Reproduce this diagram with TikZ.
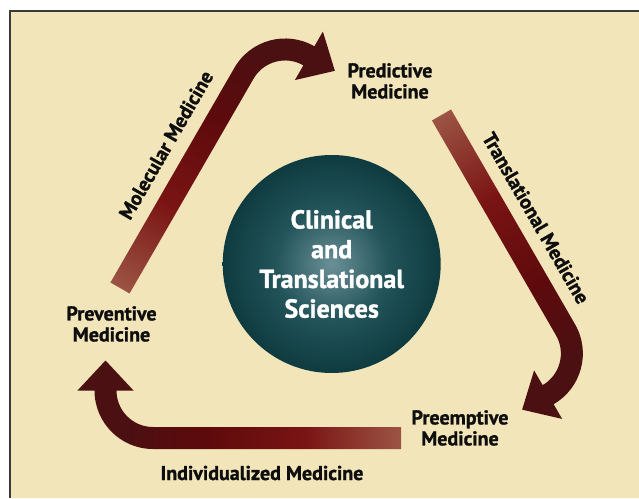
\documentclass[tikz,border=0pt]{standalone}
\usepackage{fontspec}
\setmainfont{PT Sans}[BoldFeatures={FakeBold=1.3}]
\usepackage{xcolor}
\usepackage{tikz}
\usetikzlibrary{positioning}

\definecolor{parchment}{HTML}{F2E5B9}
\definecolor{framegray}{HTML}{3A3A3A}
\definecolor{labelink}{HTML}{0E0E0E}
\definecolor{bandtail}{HTML}{9C5444}
\definecolor{bandred}{HTML}{7A1414}
\definecolor{banddeep}{HTML}{5E0A0C}
\definecolor{bandhead}{HTML}{4A1012}
\definecolor{globelight}{HTML}{6A9096}
\definecolor{globemid}{HTML}{22545A}
\definecolor{globedark}{HTML}{0E3B40}

\pgfdeclareverticalshading{bandfade}{100bp}{color(0bp)=(bandtail); color(25bp)=(bandtail); color(40bp)=(bandred); color(55bp)=(banddeep); color(68bp)=(bandhead); color(100bp)=(bandhead)}
\pgfdeclareradialshading{globe}{\pgfpoint{0bp}{0bp}}{color(0bp)=(globelight); color(13bp)=(globemid); color(25bp)=(globedark); color(50bp)=(globedark)}

\tikzset{
    stage/.style={font=\fontsize{20}{21}\selectfont\bfseries, align=center, inner sep=0pt, text=labelink},
    path label/.style={font=\fontsize{20}{21}\selectfont\bfseries, inner sep=0pt, text=labelink},
    core/.style={circle, minimum size=218pt, inner sep=0pt, shading=globe,
        font=\fontsize{26}{29.7}\selectfont\bfseries, text=white, align=center},
    arrowband/.style={shading=bandfade, shading angle=-90}
}

% bent band with a wide head, drawn from its tail along the heading #2
\newcommand{\medarrow}[2]{%
    \begin{scope}[transform canvas={shift={(#1)}, rotate=#2}]
        \shade[arrowband] (0,-11) -- (0,11) -- (248,11)
            arc[start angle=90, end angle=0, radius=58.5]
            -- (323.5,-47.5) -- (295.5,-77.5) -- (267.5,-47.5) -- (284.5,-47.5)
            arc[start angle=0, end angle=90, radius=36.5] -- cycle;
    \end{scope}}

\begin{document}
\begin{tikzpicture}[x=1pt, y=1pt]
    \useasboundingbox (0,0) rectangle (639,498);
    \fill[white] (0,0) rectangle (639,498);
    \fill[parchment] (10,0) rectangle (639,487);
    \draw[framegray, line width=1.5pt] (10,0) -- (10,487) -- (639,487);

    \node[core] (core) at (331.7,234) {Clinical\\and\\Translational\\Sciences};

    \node[stage, anchor=north] (predictive) at (390,435) {Predictive\\Medicine};
    \node[stage, anchor=north] (preemptive) at (460,88) {Preemptive\\Medicine};
    \node[stage, anchor=north] (preventive) at (111.5,192) {Preventive\\Medicine};

    \coordinate (molecular tail) at (120,210);
    \coordinate (translational tail) at (441.5,383);
    \coordinate (individualized tail) at (401,60);

    \medarrow{molecular tail}{60}
    \medarrow{translational tail}{-60}
    \medarrow{individualized tail}{180}

    \node[path label, rotate=60] (molecular) at (166,353) {Molecular Medicine};
    \node[path label, rotate=-60] (translational) at (536,280) {Translational Medicine};
    \node[path label, anchor=base] (individualized) at (262,18) {Individualized Medicine};
\end{tikzpicture}
\end{document}
